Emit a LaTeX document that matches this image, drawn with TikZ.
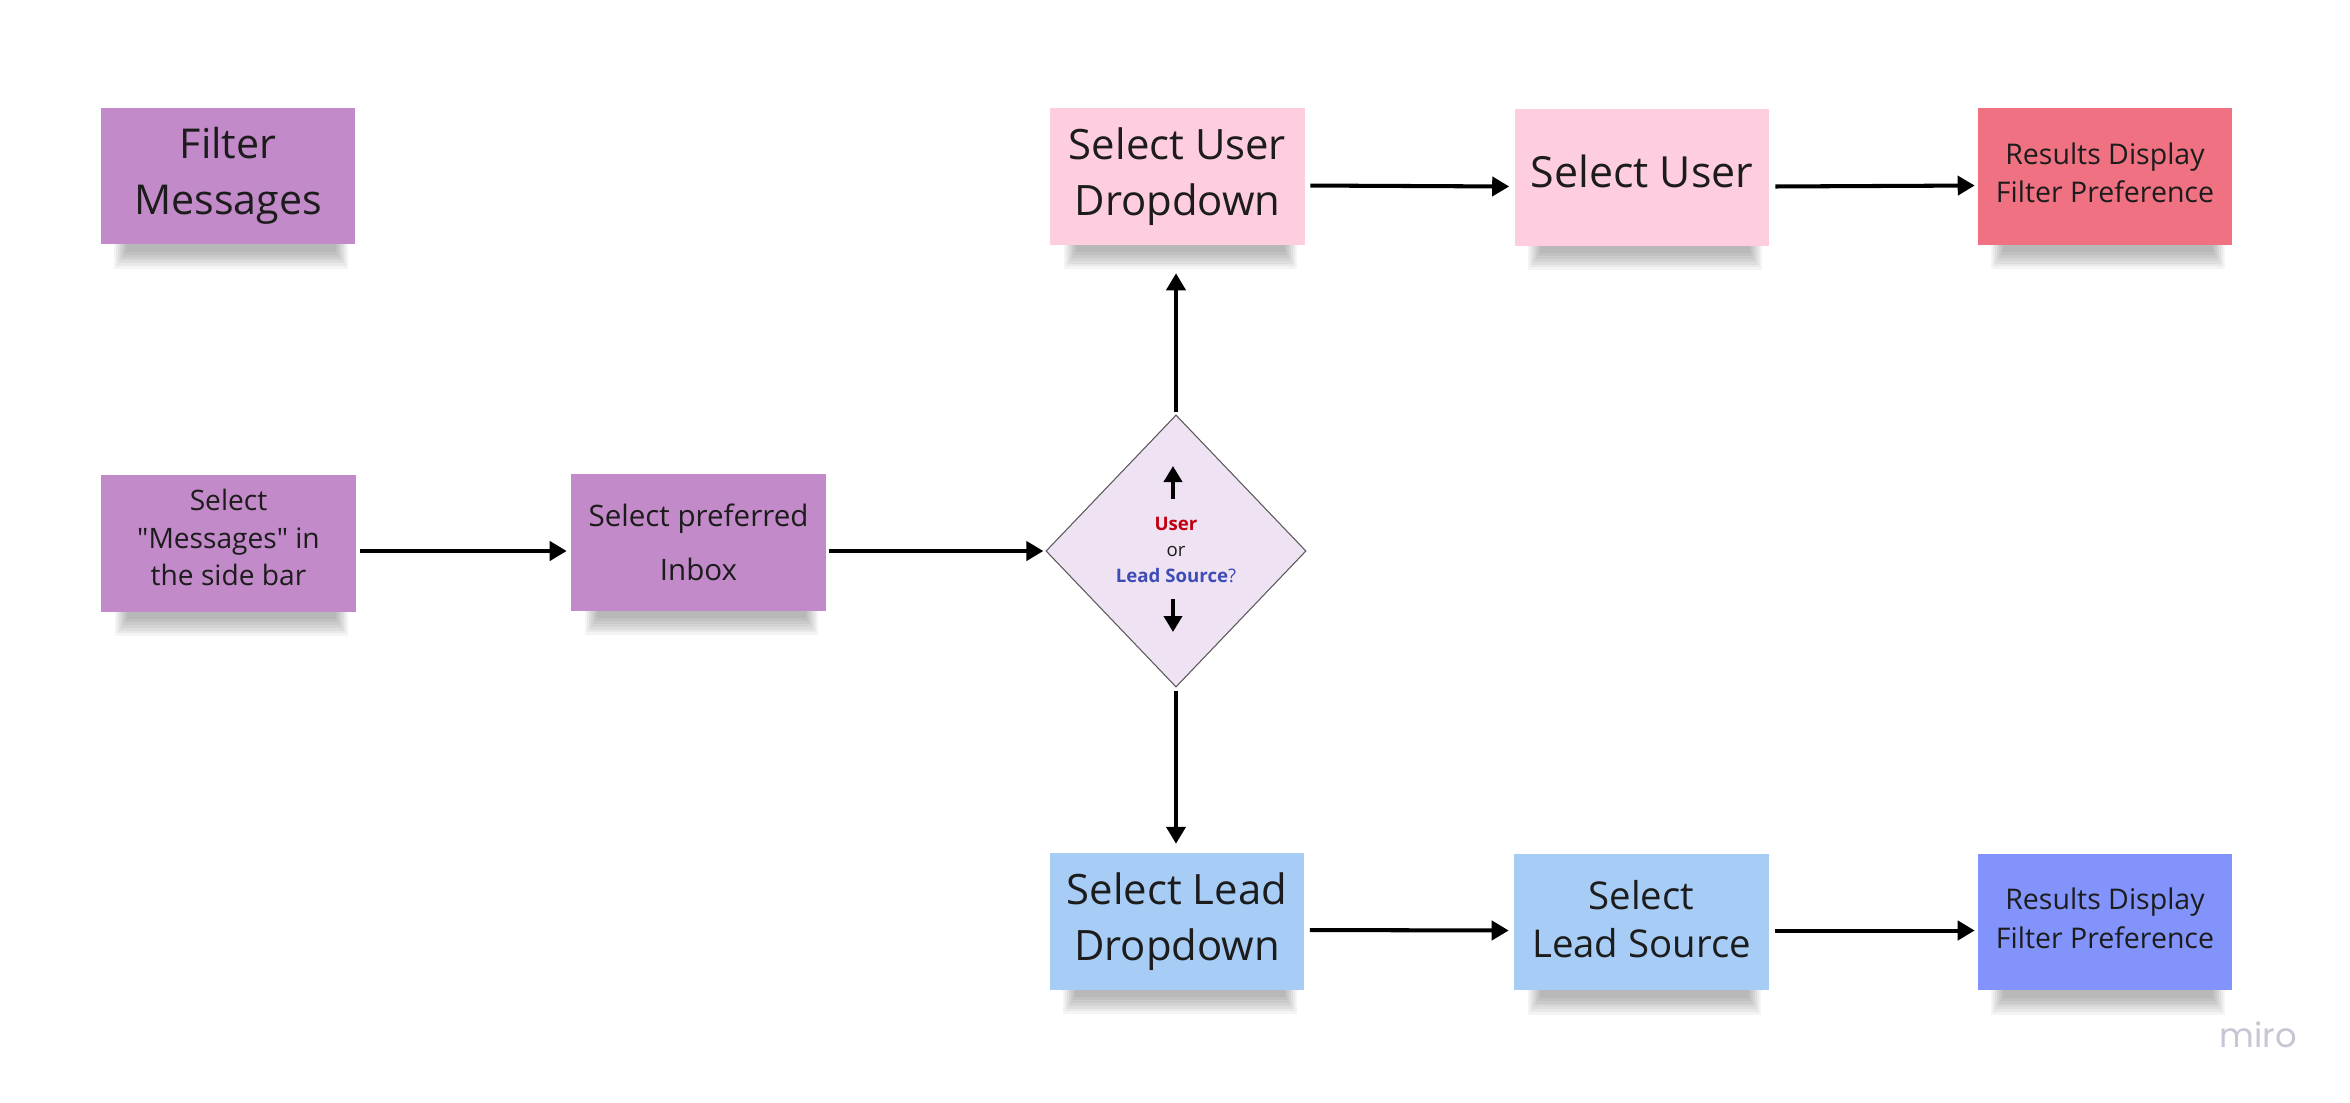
\documentclass[tikz,border=0pt]{standalone}
\usepackage{fontspec}
\setmainfont{Open Sans}[Ligatures=TeXOff]
\newfontfamily\logofont{Poppins}
\usetikzlibrary{arrows.meta,shapes.geometric,calc,backgrounds}
\definecolor{cViolet}{HTML}{C28AC8}
\definecolor{cPink}{HTML}{FFCDE0}
\definecolor{cRed}{HTML}{F07282}
\definecolor{cLightBlue}{HTML}{A7CCF5}
\definecolor{cBlue}{HTML}{8294FB}
\definecolor{cDiamond}{HTML}{EFE2F3}
\definecolor{cUser}{HTML}{C00010}
\definecolor{cLead}{HTML}{3D4DB5}
\definecolor{cText}{HTML}{1C1C1C}
\definecolor{cLogo}{HTML}{C6C6D4}
\tikzset{
  sticky/.style={minimum width=2.54cm, minimum height=1.36cm, inner sep=0pt, align=center, text=cText},
  bigtext/.style={font=\fontsize{11.7}{15.9}\selectfont},
  smalltext/.style={font=\fontsize{8.1}{10.9}\selectfont},
  arr/.style={-{Triangle[length=0.17cm,width=0.19cm]}, line width=1.15pt, black},
  smallarr/.style={-{Triangle[length=0.16cm,width=0.18cm]}, line width=1.1pt, black},
}
\newcommand\stickyshadow[1]{%
  \foreach \k in {0,...,6}{%
    \fill[black,opacity=0.045] ($(#1.south west)+(14+2*\k,-6)$) rectangle ($(#1.south east)+(-8-2*\k,24-2.8*\k)$);
  }}
\begin{document}
\begin{tikzpicture}[x=0.01cm,y=-0.01cm]
\useasboundingbox (0,0) rectangle (2350,1102);

% sticky notes
\node[sticky,bigtext,fill=cViolet] (fm) at (228,176) {Filter\\Messages};
\node[sticky,fill=cViolet,font=\fontsize{8.0}{10.7}\selectfont,text depth=0.12cm] (sm) at (228.5,543.5) {Select\\"Messages" in\\the side bar};
\node[sticky,fill=cViolet,font=\fontsize{8.4}{15.4}\selectfont] (inbox) at (698.5,542.5) {Select preferred\\Inbox};
\node[sticky,fill=cPink,font=\fontsize{11.9}{15.9}\selectfont] (ud) at (1177.5,176.5) {Select User\\Dropdown};
\node[sticky,fill=cPink,font=\fontsize{12.2}{15.9}\selectfont,text depth=0.12cm] (su) at (1642,177.5) {Select User};
\node[sticky,smalltext,fill=cRed,text depth=0.07cm] (rr) at (2105,176.5) {Results Display\\Filter Preference};
\node[sticky,fill=cLightBlue,font=\fontsize{11.9}{15.9}\selectfont] (ld) at (1177,921.5) {Select Lead\\Dropdown};
\node[sticky,fill=cLightBlue,font=\fontsize{10.9}{13.6}\selectfont,text depth=0.06cm] (sl) at (1641.5,922) {Select\\Lead Source};
\node[sticky,smalltext,fill=cBlue,text depth=0.08cm] (rb) at (2105,922) {Results Display\\Filter Preference};

% decision
\node[diamond, draw=black!65, line width=0.3pt, fill=cDiamond, minimum width=2.60cm, minimum height=2.72cm, inner sep=0pt] (dia) at (1176,551) {};
\node[align=center, inner sep=0pt, text=cText, font=\fontsize{5.3}{7.3}\selectfont] (dtext) at (1176,550)
  {\textcolor{cUser}{\bfseries User}\\or\\\textcolor{cLead}{\bfseries Lead Source}\textcolor{cLead}{?}};
\coordinate (ua1) at (1173,499);
\coordinate (ua2) at (1173,466);
\coordinate (da1) at (1173,599);
\coordinate (da2) at (1173,632);
\draw[smallarr] (ua1) -- (ua2);
\draw[smallarr] (da1) -- (da2);

% connectors
\draw[arr, shorten <=0.04cm, shorten >=0.04cm] (sm.east |- dia.center) -- (inbox.west |- dia.center);
\draw[arr, shorten <=0.03cm, shorten >=0.02cm] (inbox.east |- dia.center) -- (dia.west);
\draw[arr, shorten <=0.02cm, shorten >=0.28cm] (dia.north) -- (dia.north |- ud.south);
\draw[arr, shorten <=0.03cm, shorten >=0.09cm] (dia.south) -- (dia.south |- ld.north);
\draw[arr, shorten <=0.05cm, shorten >=0.05cm] ([yshift=-0.09cm]ud.east) -- ([yshift=-0.09cm]su.west);
\draw[arr, shorten <=0.055cm, shorten >=0.025cm] ([yshift=-0.09cm]su.east) -- ([yshift=-0.09cm]rr.west);
\draw[arr, shorten <=0.05cm, shorten >=0.05cm] ([yshift=-0.085cm]ld.east) -- ([yshift=-0.085cm]sl.west);
\draw[arr, shorten <=0.055cm, shorten >=0.025cm] ([yshift=-0.085cm]sl.east) -- ([yshift=-0.085cm]rb.west);

% logo
\node[text=cLogo, font=\logofont\fontsize{9.6}{9.6}\selectfont, inner sep=0pt] (logo) at (2258,1035) {miro};

\begin{scope}[on background layer]
  \fill[white] (0,0) rectangle (2350,1102);
  \stickyshadow{fm}
  \stickyshadow{sm}
  \stickyshadow{inbox}
  \stickyshadow{ud}
  \stickyshadow{su}
  \stickyshadow{rr}
  \stickyshadow{ld}
  \stickyshadow{sl}
  \stickyshadow{rb}
\end{scope}
\end{tikzpicture}
\end{document}
